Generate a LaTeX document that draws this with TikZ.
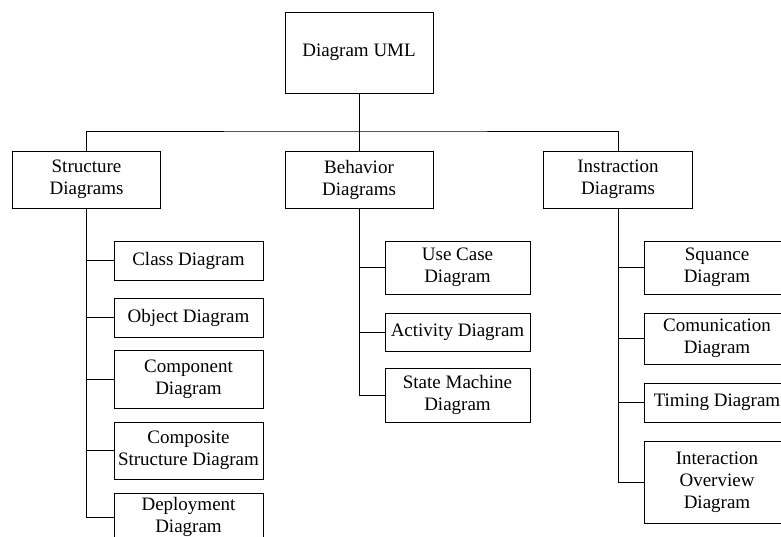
\documentclass[tikz,border=0pt]{standalone}
\usepackage{fontspec}
\setmainfont{Liberation Serif}
\begin{document}
\begin{tikzpicture}[x=1pt,y=-1pt,line width=1pt,
box/.style 2 args={draw=black,rectangle,align=center,inner sep=1pt,font=\fontsize{19}{22}\selectfont,minimum width=#1pt,minimum height=#2pt}]
\useasboundingbox (0,0) rectangle (781,536);
\clip (0,0) rectangle (781,536);
\node [box={148}{81}] (uml) at (359,52.5) {Diagram UML};
\node [box={148}{57}] (struct) at (86.5,179.5) {Structure\\Diagrams};
\node [box={148}{57}] (behav) at (359,179.5) {Behavior\\Diagrams};
\node [box={149}{57}] (instr) at (618,179.5) {Instraction\\Diagrams};
\node [box={149}{39}] (classd) at (188.5,260.5) {Class Diagram};
\node [box={149}{39}] (objectd) at (188.5,317.5) {Object Diagram};
\node [box={149}{58}] (componentd) at (188.5,379) {Component\\Diagram};
\node [box={149}{57}] (composited) at (188.5,450.5) {Composite\\Structure Diagram};
\node [box={149}{48}] (deployd) at (188.5,517) {Deployment\\Diagram};
\node [box={145}{53}] (usecased) at (457.5,267.5) {Use Case\\Diagram};
\node [box={145}{38}] (activityd) at (457.5,332) {Activity Diagram};
\node [box={145}{54}] (stated) at (457.5,395) {State Machine\\Diagram};
\node [box={146}{53}] (squanced) at (717,267.5) {Squance\\Diagram};
\node [box={146}{51}] (comud) at (717,338.5) {Comunication\\Diagram};
\node [box={146}{39}] (timingd) at (717,402.5) {Timing Diagram};
\node [box={146}{82}] (interd) at (717,482) {Interaction\\Overview\\Diagram};
\coordinate (bus) at (359,131);
\draw [black] (uml.south) -- (behav.north);
\draw [black] (struct.north) |- (bus) -| (instr.north);
\draw [black] (struct.south) |- (deployd.west);
\draw [black] (struct.south |- classd.west) -- (classd.west);
\draw [black] (struct.south |- objectd.west) -- (objectd.west);
\draw [black] (struct.south |- componentd.west) -- (componentd.west);
\draw [black] (struct.south |- composited.west) -- (composited.west);
\draw [black] (behav.south) |- (stated.west);
\draw [black] (behav.south |- usecased.west) -- (usecased.west);
\draw [black] (behav.south |- activityd.west) -- (activityd.west);
\draw [black] (instr.south) |- (interd.west);
\draw [black] (instr.south |- squanced.west) -- (squanced.west);
\draw [black] (instr.south |- comud.west) -- (comud.west);
\draw [black] (instr.south |- timingd.west) -- (timingd.west);
\end{tikzpicture}
\end{document}
